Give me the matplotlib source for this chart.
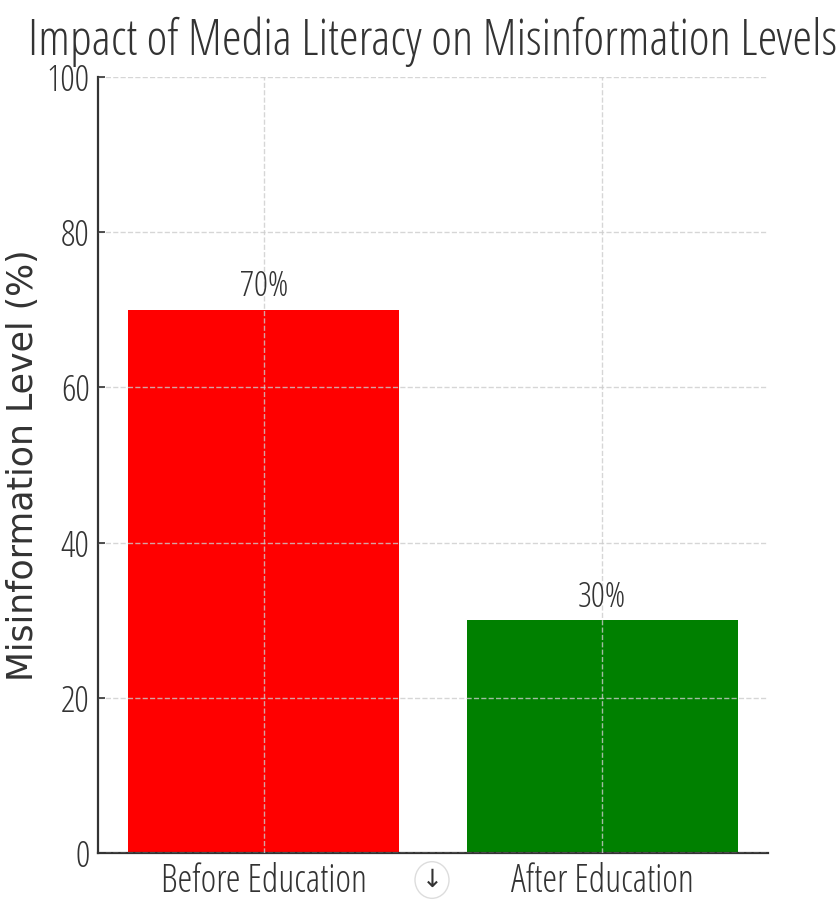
import matplotlib
matplotlib.use("Agg")
import matplotlib.pyplot as plt
from matplotlib.patches import Circle

# misinformation levels before/after media literacy education
stages = ["Before Education", "After Education"]
levels = [70, 30]
bar_colors = ["red", "green"]
yticks = [0, 20, 40, 60, 80, 100]

narrow = dict(family="Open Sans", stretch="condensed", weight=500)
ink = "#333333"

fig = plt.figure(figsize=(8.4, 9.05), dpi=100)
ax = fig.add_axes([0.1167, 0.0575, 0.7976, 0.8575])

bars = ax.bar(stages, levels, color=bar_colors, width=0.8)
ax.set_ylim(0, 100)
ax.set_yticks(yticks)

# dashed grid sits on top of the bars
ax.set_axisbelow(False)
ax.grid(True, linestyle="--", color="#cccccc", linewidth=1, alpha=0.8)

for s in ["top", "right"]:
    ax.spines[s].set_visible(False)
for s in ["left", "bottom"]:
    ax.spines[s].set_color(ink)
    ax.spines[s].set_linewidth(1.6)

ax.tick_params(axis="y", direction="in", length=5, width=1.2, color=ink, pad=6)
ax.tick_params(axis="x", length=0, pad=7)
for lab in ax.get_yticklabels() + ax.get_xticklabels():
    lab.set(**narrow)
    lab.set_color(ink)
for lab in ax.get_yticklabels():
    lab.set_fontsize(26)
for lab in ax.get_xticklabels():
    lab.set_fontsize(27)

for b, v in zip(bars, levels):
    ax.annotate(f"{v}%", (b.get_x() + b.get_width() / 2, v), xytext=(0, 4),
                textcoords="offset points", ha="center", va="bottom",
                fontsize=25, color=ink, **narrow)

ax.set_ylabel("Misinformation Level (%)", family="DejaVu Sans", fontsize=25,
              color=ink, labelpad=5)
ax.set_title("Impact of Media Literacy on Misinformation Levels", fontsize=36,
             color=ink, pad=16, **narrow)

# small scroll button drawn at the bottom centre
fig.add_artist(Circle((432 / 840, 1 - 880 / 905), 17 / 840, transform=fig.transFigure,
                      facecolor="white", edgecolor="#dddddd", linewidth=1))
fig.text(432 / 840, 1 - 880 / 905, "↓", ha="center", va="center", fontsize=18,
         color=ink, family="DejaVu Sans")

fig.savefig("out.png", dpi=100)
